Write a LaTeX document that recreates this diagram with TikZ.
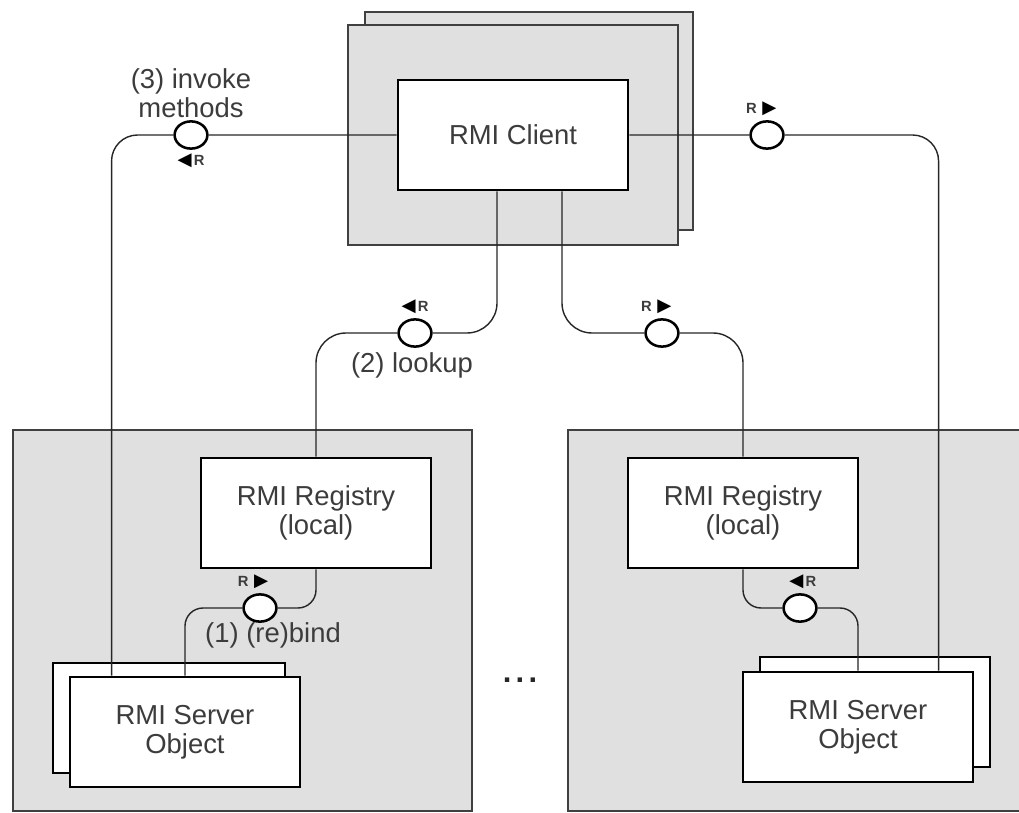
\documentclass[tikz,border=0pt]{standalone}
\usepackage{fontspec}
\setmainfont{Liberation Sans}
\newfontfamily\symfont{DejaVu Sans}
\usetikzlibrary{positioning,calc,shapes.geometric}
\definecolor{hostgray}{RGB}{224,224,224}
\definecolor{txtgray}{RGB}{60,60,60}
\newcommand{\tagL}{{\symfont\fontsize{13}{13}\selectfont\color{black}◀}\kern1.5pt R}
\newcommand{\tagR}{R\kern4pt{\symfont\fontsize{13}{13}\selectfont\color{black}▶}}
\begin{document}
\begin{tikzpicture}[x=0.025cm, y=-0.025cm,
    hostbox/.style={draw=black!75, fill=hostgray, line width=1.2pt, inner sep=0pt},
    compbox/.style={draw=black, fill=white, line width=2pt, inner sep=0pt,
        minimum width=5.75cm, minimum height=2.75cm, align=center,
        text=txtgray, font=\fontsize{19.5}{20.6}\selectfont},
    port/.style={ellipse, draw=black, fill=white, line width=1.8pt,
        minimum width=0.82cm, minimum height=0.68cm, inner sep=0pt},
    conn/.style={draw=black!85, line width=1pt},
    lbl/.style={text=txtgray, align=center, font=\fontsize{19.5}{20.6}\selectfont},
    tag/.style={text=txtgray, inner sep=1pt, font=\fontsize{10.5}{11}\bfseries}]
    \useasboundingbox (0,0) rectangle (1019,813);

    % client side
    \node[hostbox, minimum width=8.2cm, minimum height=5.45cm] (cliback) at (529,121) {};
    \node[hostbox, minimum width=8.25cm, minimum height=5.5cm] (clifront) at (513,135) {};
    \node[compbox] (client) at (513,135) {RMI Client};

    % server hosts
    \node[hostbox, minimum width=11.475cm, minimum height=9.525cm] (hostL) at (242.5,620.5) {};
    \node[hostbox, minimum width=11.55cm, minimum height=9.525cm] (hostR) at (799,620.5) {};

    % registries
    \node[compbox] (regL) at (316,513) {RMI Registry\\(local)};
    \node[compbox] (regR) at (743,513) {RMI Registry\\(local)};

    % server objects
    \node[compbox, minimum width=5.8cm] (srvLback) at (169,718) {};
    \node[compbox] (srvL) at (185,732) {RMI Server\\Object};
    \node[compbox] (srvRback) at (875,712) {};
    \node[compbox] (srvR) at (858,727) {RMI Server\\Object};

    % ports
    \node[port] (pInv) at (191,135) {};
    \node[port] (pOut) at (767,135) {};
    \node[port] (pLook) at (415,333) {};
    \node[port] (pLookR) at (662,333) {};
    \node[port] (pBind) at (260,608) {};
    \node[port] (pBindR) at (800,608) {};

    % connectors
    \draw[conn, rounded corners=0.65cm] (client.west) -- (pInv) -| ($(srvL.north west)+(43,0)$);
    \draw[conn, rounded corners=0.65cm] (client.east) -- (pOut) -| ($(srvR.north west)+(197,0)$);
    \draw[conn, rounded corners=0.75cm] ($(client.south)+(-16,0)$) |- (pLook) -| (regL.north);
    \draw[conn, rounded corners=0.75cm] ($(client.south)+(49,0)$) |- (pLookR) -| (regR.north);
    \draw[conn, rounded corners=0.45cm] (regL.south) |- (pBind) -| (srvL.north);
    \draw[conn, rounded corners=0.45cm] (regR.south) |- (pBindR) -| (srvR.north);

    % tags and labels
    \node[tag, below=0.06cm of pInv] (tInv) {\tagL};
    \node[tag, above=0.06cm of pOut, xshift=-4] (tOut) {\tagR};
    \node[tag, above=0.06cm of pLook] (tLook) {\tagL};
    \node[tag, above=0.06cm of pLookR, xshift=-4] (tLookR) {\tagR};
    \node[tag, above=0.06cm of pBind, xshift=-5] (tBind) {\tagR};
    \node[tag, above=0.06cm of pBindR, xshift=2] (tBindR) {\tagL};

    \node[lbl] (lInv) at (191,93) {(3) invoke\\methods};
    \node[lbl] (lLook) at (412,365) {(2) lookup};
    \node[lbl] (lBind) at (273,635) {(1) (re)bind};
    \node[lbl, text=black!85, font=\fontsize{22}{22}\bfseries] (dots) at (520,680) {.\kern3pt.\kern3pt.};
\end{tikzpicture}
\end{document}
